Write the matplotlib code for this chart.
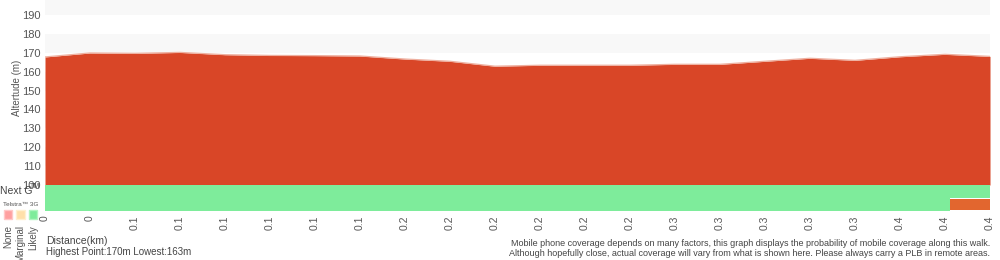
import matplotlib
matplotlib.use("Agg")
import matplotlib.pyplot as plt
from matplotlib.patches import Rectangle

plt.rcParams['font.family'] = ['Liberation Sans', 'DejaVu Sans']

# ---- data ----
tick_labels = ["0", "0", "0.1", "0.1", "0.1", "0.1", "0.1", "0.1", "0.2", "0.2", "0.2",
               "0.2", "0.2", "0.2", "0.3", "0.3", "0.3", "0.3", "0.3", "0.4", "0.4", "0.4"]
elevation = [167.8, 169.9, 169.7, 170.2, 169.0, 168.6, 168.5, 168.3, 166.7, 165.5, 162.9,
             163.4, 163.4, 163.4, 163.9, 163.9, 165.5, 167.1, 166.0, 167.9, 169.2, 168.1]
y_ticks = [100, 110, 120, 130, 140, 150, 160, 170, 180, 190]
nextg_segments = [(0, 21, "likely")]
threeg_segments = [(0, 20.1, "likely"), (20.1, 21, "partial")]
legend_items = ["None", "Marginal", "Likely"]

W, H = 1000, 260
fig = plt.figure(figsize=(W / 100, H / 100), dpi=100)
ax = fig.add_axes([45 / W, 1 - 211 / H, (990 - 45) / W, 211 / H])

ppu = 170 / 90.0
ytop = 190 + 15 / ppu
ybot = 100 - (211 - 185) / ppu
ax.set_ylim(ybot, ytop)
ax.set_xlim(0, len(elevation) - 1)

red = "#d94627"
green = "#7eec9b"
orange = "#e2662f"
colors = {"likely": green, "partial": orange}

# background bands
for lo in range(100, 200, 20):
    ax.axhspan(lo + 10, lo + 20, color="#f8f8f8", lw=0, zorder=0)

x = list(range(len(elevation)))
ax.fill_between(x, elevation, 100, color=red, lw=0, zorder=2)
ax.plot(x, elevation, color="#eeb0a0", lw=0.9, zorder=3)

# coverage rows
row_h = (ybot - 100) / 2.0  # negative
for (a, b, c) in nextg_segments:
    ax.add_patch(Rectangle((a, 100), b - a, row_h, color=colors[c], lw=0, zorder=4))
for (a, b, c) in threeg_segments:
    if c == "likely":
        ax.add_patch(Rectangle((a, 100 + row_h), b - a, row_h, color=colors[c], lw=0, zorder=4))
    else:
        ax.add_patch(Rectangle((a, 100 + row_h - 0.5 / ppu), b - a, row_h + 1.5 / ppu,
                               color=colors[c], lw=0, zorder=4))

ax.set_yticks(y_ticks)
ax.set_yticklabels([str(v) for v in y_ticks], fontsize=8, color="#555555")
ax.set_xticks(x)
ax.set_xticklabels(tick_labels, rotation=90, fontsize=7.5, color="#555555")
ax.tick_params(length=0, pad=3)
for s in ax.spines.values():
    s.set_visible(False)
ax.set_ylabel("Altertude (m)", fontsize=7, color="#555555")
ax.yaxis.set_label_coords(-23 / 945, (211 - 88) / 211)

def ft(px, py, s, **kw):
    fig.text(px / W, 1 - py / H, s, **kw)

ft(0, 191, "Next G", fontsize=7.5, color="#444444", va="center")
ft(30, 186.5, "TM", fontsize=5, color="#444444", va="center")
ft(3, 204, "Telstra\u2122 3G", fontsize=4.6, color="#555555", va="center")

leg_cols = ["#ffa0a0", "#ffe0aa", "#7eec9b"]
leg_edges = ["#ffc8c8", "#fff0d0", "#b0f5c0"]
for i, (lab, c, e) in enumerate(zip(legend_items, leg_cols, leg_edges)):
    x0 = 3.5 + i * 12.5
    fig.add_artist(Rectangle((x0 / W, 1 - 218.5 / H), 8.5 / W, 9 / H, facecolor=c,
                             edgecolor=e, lw=1, transform=fig.transFigure))
    ft(x0 + 4.5, 225, lab, fontsize=7, color="#555555", rotation=90,
       ha="center", va="top")

ft(46, 241, "Distance(km)", fontsize=7.5, color="#444444", va="center")
ft(46, 252, "Highest Point:170m Lowest:163m", fontsize=7, color="#444444", va="center")
ft(990, 243, "Mobile phone coverage depends on many factors, this graph displays the probability of mobile coverage along this walk.",
   fontsize=6.5, color="#444444", ha="right", va="center")
ft(990, 253, "Although hopefully close, actual coverage will vary from what is shown here. Please always carry a PLB in remote areas.",
   fontsize=6.5, color="#444444", ha="right", va="center")

fig.savefig("out.png", dpi=100)
